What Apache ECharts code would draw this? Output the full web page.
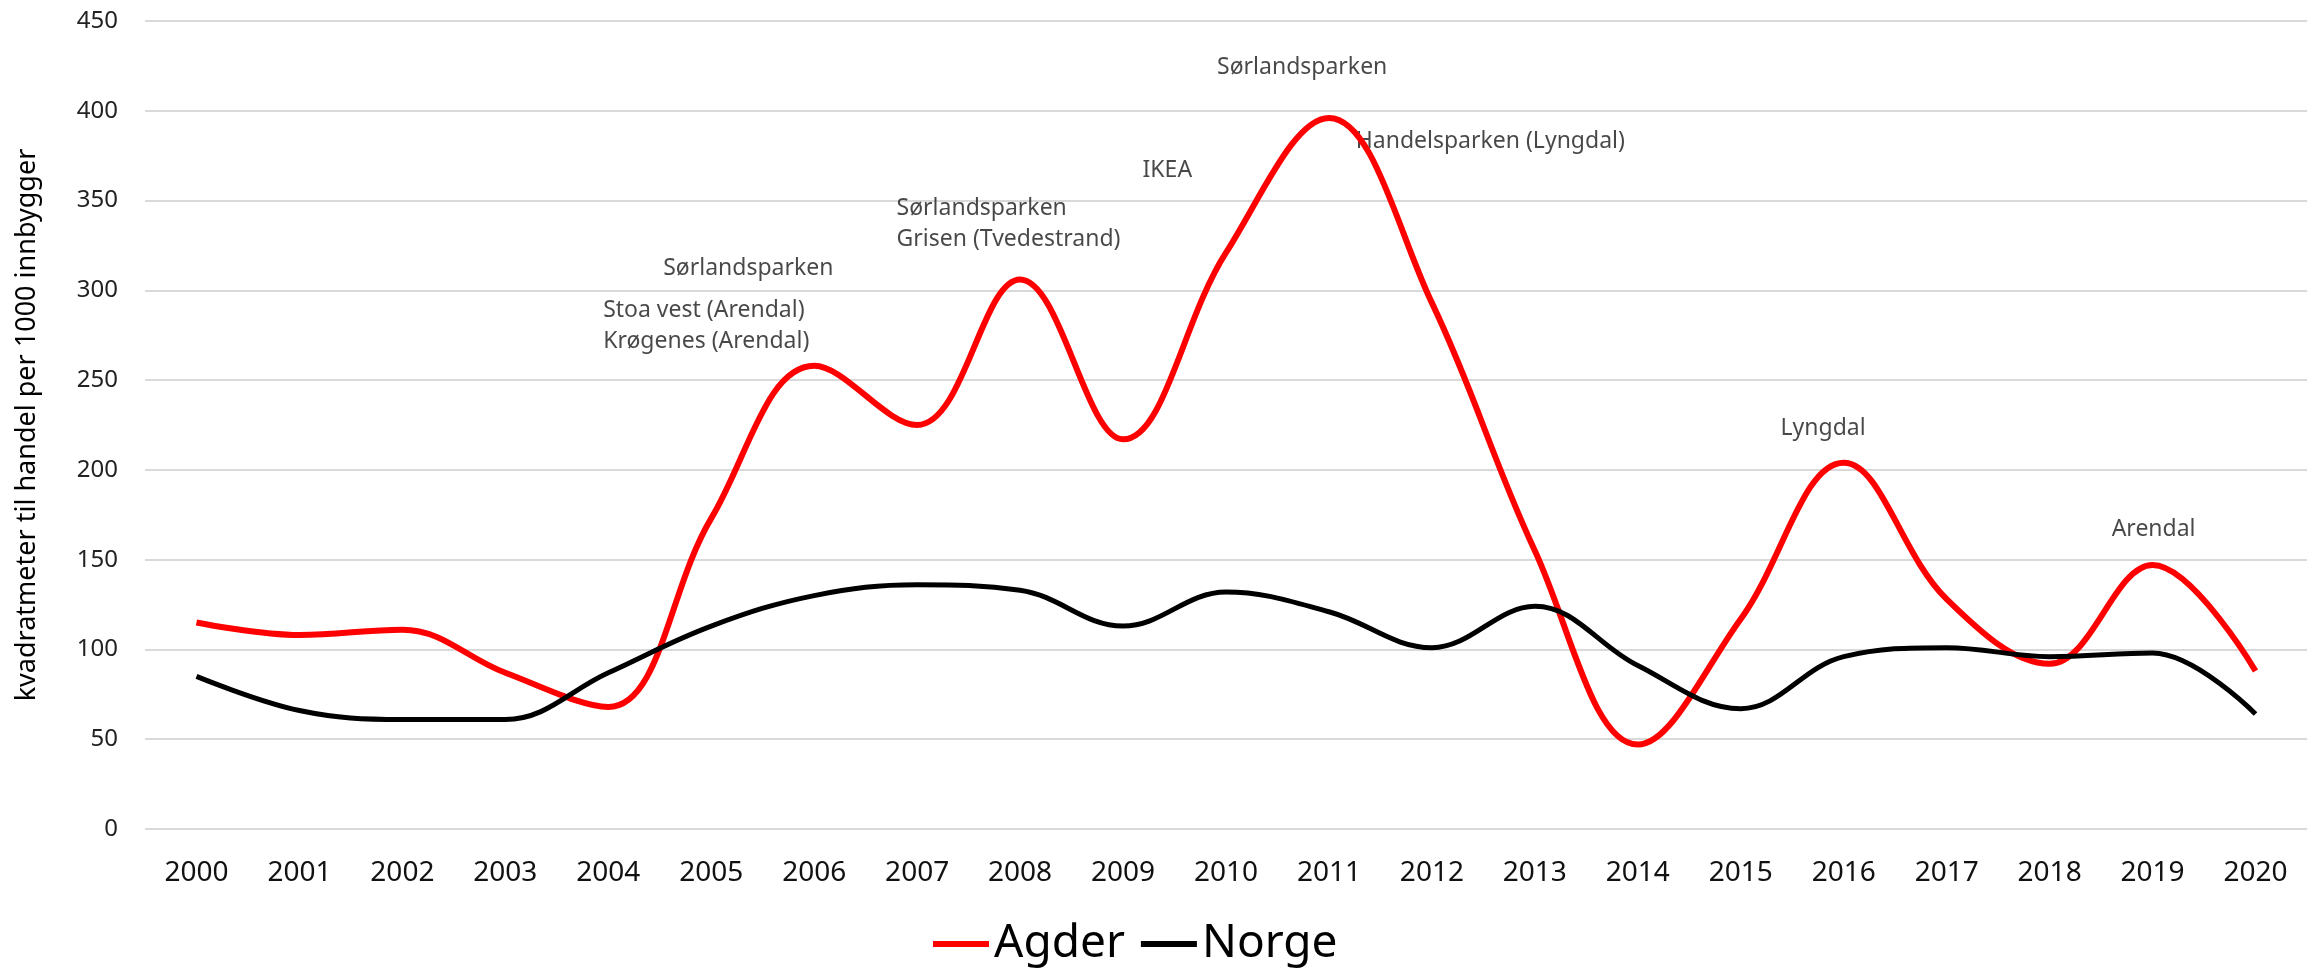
<!DOCTYPE html>
<html>
<head>
<meta charset="utf-8">
<script src="https://cdn.jsdelivr.net/npm/echarts@6/dist/echarts.min.js"></script>
<style>
  html, body { margin: 0; padding: 0; background: #fff; }
  #chart { width: 2320px; height: 977px; }
</style>
</head>
<body>
<div id="chart"></div>
<script>
const years = ["2000", "2001", "2002", "2003", "2004", "2005", "2006", "2007", "2008", "2009", "2010",
  "2011", "2012", "2013", "2014", "2015", "2016", "2017", "2018", "2019", "2020"]

const agder = [115, 108, 111, 87, 68, 173, 258, 225, 306, 217, 321, 396, 293, 155, 47, 117, 204, 128, 92, 147, 88]
const norge = [85, 66, 61, 61, 87, 113, 130, 136, 133, 113, 132, 121, 101, 124, 91, 67, 96, 101, 96, 98, 64]

// annotation texts, placed at (year index, value)
const notes = [
  [5.36, 312, "Sørlandsparken", "center"],
  [3.95, 280, "Stoa vest (Arendal)\nKrøgenes (Arendal)", "left"],
  [6.80, 337, "Sørlandsparken\nGrisen (Tvedestrand)", "left"],
  [9.43, 367, "IKEA", "center"],
  [10.74, 424, "Sørlandsparken", "center"],
  [11.26, 383, "Handelsparken (Lyngdal)", "left"],
  [15.80, 223, "Lyngdal", "center"],
  [19.01, 167, "Arendal", "center"]
]

const font = "'Noto Sans', 'Open Sans', sans-serif"
const chart = echarts.init(document.getElementById("chart"))

chart.setOption({
  backgroundColor: "#fff",
  animation: false,
  textStyle: { fontFamily: font },
  grid: { left: 145, right: 13, top: 21, bottom: 148 },
  legend: {
    data: ["Agder", "Norge"],
    left: 928,
    top: 916,
    icon: "rect",
    itemWidth: 56,
    itemHeight: 6,
    itemGap: 16,
    textStyle: { fontSize: 46, color: "#000", fontFamily: font }
  },
  xAxis: [
    {
      type: "category",
      data: years,
      boundaryGap: true,
      axisLine: { show: false },
      axisTick: { show: false },
      axisLabel: { fontSize: 28, color: "#111", margin: 30 }
    },
    { type: "value", min: -0.5, max: 20.5, show: false }
  ],
  yAxis: {
    type: "value",
    min: 0,
    max: 450,
    interval: 50,
    name: "kvadratmeter til handel per 1000 innbygger",
    nameLocation: "middle",
    nameGap: 104,
    nameTextStyle: { fontSize: 27, color: "#000" },
    axisLine: { show: false },
    axisTick: { show: false },
    axisLabel: { fontSize: 24, color: "#222", margin: 27 },
    splitLine: { lineStyle: { color: "#d9d9d9", width: 2 } }
  },
  series: [
    {
      name: "Agder",
      type: "line",
      data: agder,
      smooth: 0.38,
      showSymbol: false,
      itemStyle: { color: "#ff0000" },
      lineStyle: { color: "#ff0000", width: 6 }
    },
    {
      name: "Norge",
      type: "line",
      data: norge,
      smooth: 0.38,
      showSymbol: false,
      itemStyle: { color: "#000" },
      lineStyle: { color: "#000", width: 5 }
    },
    {
      type: "scatter",
      xAxisIndex: 1,
      symbolSize: 0,
      silent: true,
      data: notes.map(n => ({ value: [n[0], n[1]], name: n[2], label: { align: n[3] } })),
      label: {
        show: true,
        position: "inside",
        formatter: "{b}",
        fontSize: 23,
        lineHeight: 31,
        color: "#1a1a1a",
        verticalAlign: "middle"
      }
    }
  ]
})
</script>
</body>
</html>
